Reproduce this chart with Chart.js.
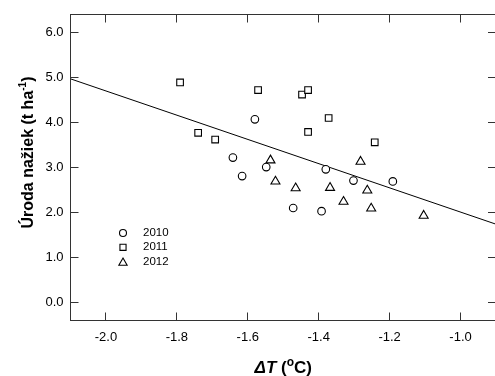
<!DOCTYPE html>
<html><head><meta charset="utf-8">
<script src="https://cdn.jsdelivr.net/npm/chart.js@4.4.1/dist/chart.umd.min.js"></script>
<style>html,body{margin:0;padding:0;background:#fff;overflow:hidden;width:495px;height:376px}canvas{display:block}</style>
</head><body>
<canvas id="c" width="497" height="376" style="width:497px;height:376px"></canvas>
<script>
const xTicks = [-2.0, -1.8, -1.6, -1.4, -1.2, -1.0];
const yTicks = [0, 1, 2, 3, 4, 5, 6];
const seriesLabels = ['2010', '2011', '2012'];
const x2010 = [-1.580, -1.642, -1.548, -1.616, -1.472, -1.380, -1.302, -1.191, -1.392];
const y2010 = [4.07, 3.22, 3.01, 2.81, 2.10, 2.96, 2.71, 2.69, 2.03];
const x2011 = [-1.791, -1.571, -1.447, -1.430, -1.740, -1.692, -1.372, -1.430, -1.242];
const y2011 = [4.89, 4.72, 4.62, 4.72, 3.77, 3.62, 4.10, 3.79, 3.56];
const x2012 = [-1.536, -1.522, -1.465, -1.282, -1.368, -1.263, -1.330, -1.252, -1.104];
const y2012 = [3.16, 2.69, 2.54, 3.13, 2.55, 2.49, 2.24, 2.09, 1.93];
const fitX = [-2.1, -0.9];
const fitY = [4.97, 1.74];

const pts = (xs, ys) => xs.map((v, i) => ({x: v, y: ys[i]}));
const styles = ['circle', 'rect', 'triangle'];
const radii = [3.8, 4.7, 5.2];

function drawRich(ctx, segs, cx, cy, rot) {
  ctx.save();
  ctx.translate(cx, cy);
  if (rot) ctx.rotate(rot);
  let total = 0;
  segs.forEach(s => { ctx.font = s.font; s.w = ctx.measureText(s.text).width; total += s.w; });
  let x = -total / 2;
  ctx.fillStyle = '#000';
  ctx.textBaseline = 'alphabetic';
  ctx.textAlign = 'left';
  segs.forEach(s => { ctx.font = s.font; ctx.fillText(s.text, x, s.dy || 0); x += s.w; });
  ctx.restore();
}

const decor = {
  id: 'decor',
  afterDraw(chart) {
    const {ctx, chartArea: a, scales: {x, y}} = chart;
    ctx.save();
    ctx.strokeStyle = '#333';
    ctx.lineWidth = 1;
    ctx.strokeRect(a.left, a.top, a.right - a.left, a.bottom - a.top);
    ctx.beginPath();
    const L = 8;
    xTicks.forEach(v => {
      const p = Math.floor(x.getPixelForValue(v)) + 0.5;
      ctx.moveTo(p, a.bottom); ctx.lineTo(p, a.bottom - L);
      ctx.moveTo(p, a.top); ctx.lineTo(p, a.top + L);
    });
    yTicks.forEach(v => {
      const p = Math.floor(y.getPixelForValue(v)) + 0.5;
      ctx.moveTo(a.left, p); ctx.lineTo(a.left + L, p);
      ctx.moveTo(a.right, p); ctx.lineTo(a.right - L, p);
    });
    ctx.stroke();
    ctx.restore();

    const lx = 123, ly0 = 233, dy = 14.3;
    chart.data.datasets.forEach((ds) => {
      if (ds.legendRow === undefined) return;
      const cy = ly0 + dy * ds.legendRow;
      ctx.save();
      ctx.strokeStyle = '#000'; ctx.fillStyle = '#fff'; ctx.lineWidth = 1.1;
      Chart.helpers.drawPoint(ctx, {pointStyle: ds.pointStyle, rotation: 0, borderWidth: 1.1, radius: ds.pointRadius * 0.92},
        lx, cy + (ds.pointStyle === 'triangle' ? 1.2 : 0));
      ctx.fillStyle = '#000';
      ctx.font = '11.5px "Liberation Sans", Arial, sans-serif';
      ctx.textBaseline = 'middle';
      ctx.textAlign = 'left';
      ctx.fillText(ds.label, 143, cy);
      ctx.restore();
    });

    const B = '"Liberation Sans", Arial, sans-serif';
    drawRich(ctx, [
      {text: 'ΔT', font: 'italic bold 17px ' + B},
      {text: ' (', font: 'bold 17px ' + B},
      {text: 'o', font: 'bold 12px ' + B, dy: -6.5},
      {text: 'C)', font: 'bold 17px ' + B}
    ], (a.left + a.right) / 2, 372.5, 0);
    drawRich(ctx, [
      {text: 'Úroda nažiek (t ha', font: 'bold 16px ' + B},
      {text: '-1', font: 'bold 10px ' + B, dy: -7},
      {text: ')', font: 'bold 16px ' + B}
    ], 32.5, 152.5, -Math.PI / 2);
  }
};

const tickFont = {family: '"Liberation Sans", Arial, sans-serif', size: 13};

new Chart(document.getElementById('c'), {
  data: {
    datasets: [
      {type: 'scatter', label: seriesLabels[0], data: pts(x2010, y2010), pointStyle: styles[0], pointRadius: radii[0], legendRow: 0},
      {type: 'scatter', label: seriesLabels[1], data: pts(x2011, y2011), pointStyle: styles[1], pointRadius: radii[1], legendRow: 1},
      {type: 'scatter', label: seriesLabels[2], data: pts(x2012, y2012), pointStyle: styles[2], pointRadius: radii[2], legendRow: 2},
      {type: 'line', label: 'fit', data: pts(fitX, fitY), pointRadius: 0, borderColor: '#000', borderWidth: 1, order: 10, fill: false, tension: 0}
    ].map(d => d.type === 'scatter' ? Object.assign(d, {borderColor: '#000', backgroundColor: '#fff', borderWidth: 1.1, pointHoverRadius: d.pointRadius}) : d)
  },
  options: {
    responsive: false,
    animation: false,
    devicePixelRatio: 1,
    layout: {autoPadding: false, padding: {left: 0, top: 14.5, right: 1, bottom: 0}},
    plugins: {legend: {display: false}, tooltip: {enabled: false}},
    scales: {
      x: {
        type: 'linear', min: -2.1, max: -0.9,
        afterBuildTicks: s => { s.ticks = xTicks.map(v => ({value: v})); },
        afterFit: s => { s.height = 55.5; s.paddingLeft = 0; s.paddingRight = 0; },
        grid: {display: false, drawTicks: false},
        border: {display: false},
        ticks: {color: '#000', font: tickFont, padding: 9, callback: v => Number(v).toFixed(1), maxRotation: 0, autoSkip: false}
      },
      y: {
        type: 'linear', min: -0.4, max: 6.4,
        afterBuildTicks: s => { s.ticks = yTicks.map(v => ({value: v})); },
        afterFit: s => { s.width = 70.5; s.paddingTop = 0; s.paddingBottom = 0; },
        grid: {display: false, drawTicks: false},
        border: {display: false},
        ticks: {color: '#000', font: tickFont, padding: 7, callback: v => Number(v).toFixed(1), autoSkip: false}
      }
    }
  },
  plugins: [decor]
});
</script>
</body></html>
